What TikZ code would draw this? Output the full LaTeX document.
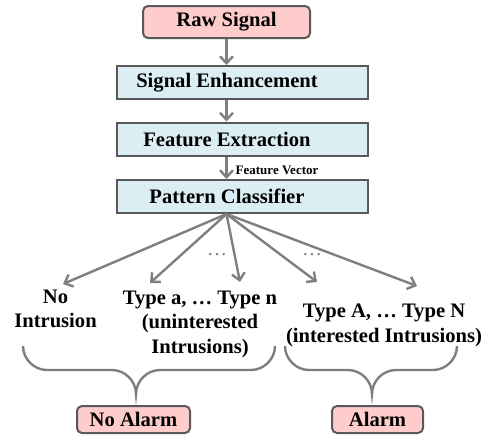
\documentclass[tikz,border=0pt]{standalone}
\usepackage{fontspec}
\setmainfont{Liberation Serif}
\usetikzlibrary{arrows.meta}
\definecolor{boxpink}{HTML}{FFCCCC}
\definecolor{boxblue}{HTML}{DAEEF3}
\definecolor{edgegray}{HTML}{595959}
\definecolor{arrowgray}{HTML}{7F7F7F}

\begin{document}
\begin{tikzpicture}[x=0.5pt, y=-0.5pt,  % one unit = one pixel of the sketch
    every node/.style={font=\fontsize{10.3}{12.25}\selectfont\bfseries, align=center},
    pinkbox/.style={draw=edgegray, line width=1pt, fill=boxpink, rounded corners=2.5pt,
                    minimum height=13.5pt, inner sep=0pt},
    bluebox/.style={draw=edgegray, line width=1pt, fill=boxblue,
                    minimum width=125.5pt, minimum height=16.5pt, inner sep=0pt},
    boxtext/.style={label={[xshift=-7.75pt]center:#1}},
    arr/.style={draw=arrowgray, line width=1.2pt, -{Straight Barb[length=3.5pt,width=6.5pt]}},
    brace/.style={draw=arrowgray, line width=1.2pt}]

    \useasboundingbox (0,0) rectangle (487,439);

    % input
    \node[pinkbox, minimum width=83.5pt, minimum height=16pt] (raw) at (226.5,22) {Raw Signal};

    % processing chain
    \node[bluebox, boxtext=Signal Enhancement] (enh) at (242.5,82.5) {};
    \node[bluebox, boxtext=Feature Extraction] (feat) at (242.5,139) {};
    \node[bluebox, boxtext=Pattern Classifier] (pat) at (242.5,196.5) {};

    \draw[arr] (raw) -- (raw |- enh.north);
    \draw[arr] (raw |- enh.south) -- (raw |- feat.north);
    \draw[arr] (raw |- feat.south) -- node[right=4pt, inner sep=0pt, yshift=-1.25pt,
        font=\fontsize{6.5}{8}\selectfont\bfseries] (fv) {Feature Vector} (raw |- pat.north);

    % classifier outputs
    \coordinate (src) at (raw |- pat.south);
    \coordinate (t1) at (63,284);
    \coordinate (t2) at (150,283);
    \coordinate (t3) at (240,282);
    \coordinate (t4) at (317,282);
    \coordinate (t5) at (417,286);
    \foreach \t in {t1,t2,t3,t4,t5}
        \draw[arr] (src) -- (\t);

    \node[font=\fontsize{10}{10}\selectfont, text=arrowgray] (dotsa) at (217,255) {…};
    \node[font=\fontsize{10}{10}\selectfont, text=arrowgray] (dotsb) at (312,255) {…};

    % classes
    \node (none) at (55.5,309) {No\\Intrusion};
    \node (uninter) at (200,324) {Type a, … Type n\\(uninterested\\Intrusions)};
    \node (inter) at (384,325.5) {Type A, … Type N\\(interested Intrusions)};

    % braces
    \draw[brace] (23,346) .. controls (23,359) and (34,370) .. (47,370) -- (112,370)
        .. controls (125,370) and (136,381) .. (136,394)
        .. controls (136,381) and (147,370) .. (160,370) -- (251,370)
        .. controls (264,370) and (275,359) .. (275,346);
    \draw[brace] (285,346) .. controls (285,359) and (296,370) .. (309,370) -- (348,370)
        .. controls (361,370) and (372,381) .. (372,394)
        .. controls (372,381) and (383,370) .. (396,370) -- (433,370)
        .. controls (446,370) and (457,359) .. (457,346);

    % decisions
    \node[pinkbox, minimum width=56.5pt] (noalarm) at (133.5,419.5) {No Alarm};
    \node[pinkbox, minimum width=45.5pt] (alarm) at (377.5,419.5) {Alarm};

\end{tikzpicture}
\end{document}
